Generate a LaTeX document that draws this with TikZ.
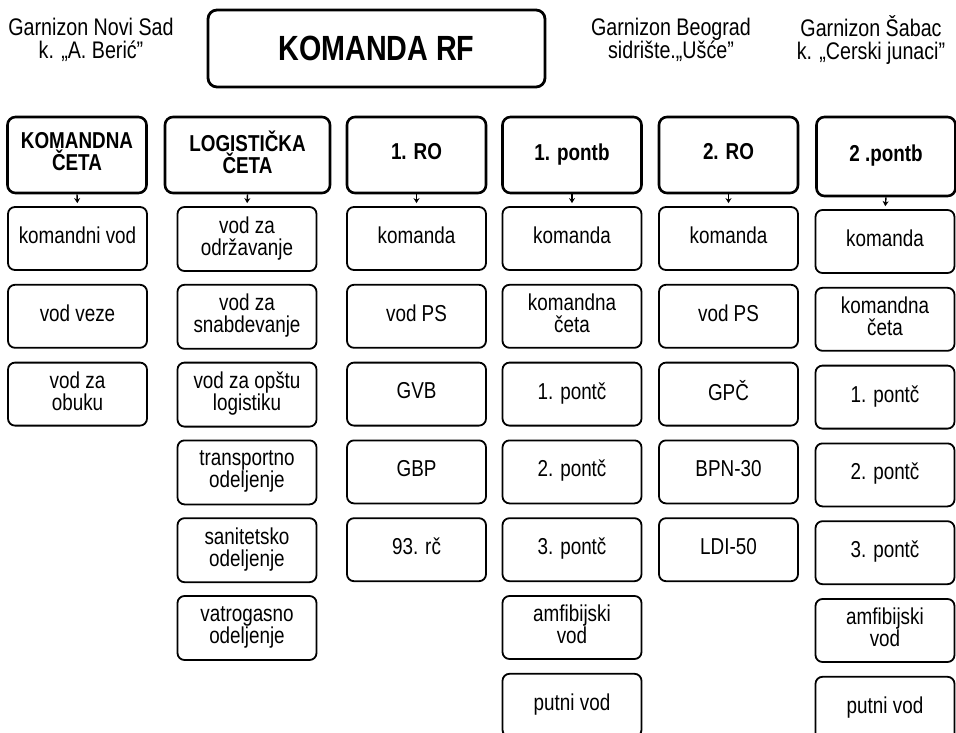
\documentclass[tikz,border=0pt]{standalone}
\usepackage{fontspec}
\setmainfont{Liberation Sans}[FakeStretch=0.82]
\usetikzlibrary{arrows.meta}
\begin{document}
\begin{tikzpicture}[x=1pt,y=-1pt,
  txt/.style={font=\fontsize{23}{22}\selectfont, align=center, inner sep=0pt,
    execute at begin node=\strut, execute at end node=\strut},
  garn/.style={font=\fontsize{24}{23}\selectfont, align=center, inner sep=0pt},
  headbox/.style={txt, draw, line width=2.6pt, rounded corners=8pt, font=\fontsize{23}{22}\selectfont\bfseries, minimum width=139pt, minimum height=76pt},
  subbox/.style={txt, draw, line width=1.8pt, rounded corners=7pt, minimum width=139pt, minimum height=63pt},
  conn/.style={line width=1.4pt, -{Stealth[length=5pt,width=6pt]}, shorten >=3pt}
]
\useasboundingbox (0,0) rectangle (956,733);

% top row
\node[garn] (gns) at (91,40) {Garnizon Novi Sad\\k. „A. Berić”};
\node[draw, line width=2.8pt, rounded corners=9pt, minimum width=337pt, minimum height=77pt, inner sep=0pt, font=\fontsize{35}{34}\selectfont\bfseries] (rf) at (376.5,48.5) {KOMANDA RF};
\node[garn] (gbg) at (671,40) {Garnizon Beograd\\sidrište.„Ušće”};
\node[garn] (gsa) at (871,40) {Garnizon Šabac\\k. „Cerski junaci”};

% headers
\node[headbox] (h1) at (77,155) {KOMANDNA\\ČETA};
\node[headbox, minimum width=165pt] (h2) at (247.5,155) {LOGISTIČKA\\ČETA};
\node[headbox] (h3) at (416.5,155) {1. RO};
\node[headbox] (h4) at (572,155) {1. pontb};
\node[headbox] (h5) at (728.5,155) {2. RO};
\node[headbox, minimum height=79pt] (h6) at (886,156.5) {2 .pontb};

% column 1
\foreach \t [count=\i] in {{komandni vod},{vod veze},{vod za\\obuku}}
  \node[subbox] (a\i) at (77.5,{238.5+(\i-1)*77.8}) {\t};
% column 2
\foreach \t [count=\i] in {{vod za\\održavanje},{vod za\\snabdevanje},{vod za opštu\\logistiku},{transportno\\odeljenje},{sanitetsko\\odeljenje},{vatrogasno\\odeljenje}}
  \node[subbox, minimum height=64pt] (b\i) at (247,{239+(\i-1)*77.8}) {\t};
% column 3
\foreach \t [count=\i] in {komanda,{vod PS},GVB,GBP,{93. rč}}
  \node[subbox] (c\i) at (416.5,{238.5+(\i-1)*77.8}) {\t};
% column 4
\foreach \t [count=\i] in {komanda,{komandna\\četa},{1. pontč},{2. pontč},{3. pontč},{amfibijski\\vod},{putni vod}}
  \node[subbox] (d\i) at (572,{238.5+(\i-1)*77.8}) {\t};
% column 5
\foreach \t [count=\i] in {komanda,{vod PS},GPČ,BPN-30,LDI-50}
  \node[subbox] (e\i) at (728.5,{238.5+(\i-1)*77.8}) {\t};
% column 6
\foreach \t [count=\i] in {komanda,{komandna\\četa},{1. pontč},{2. pontč},{3. pontč},{amfibijski\\vod},{putni vod}}
  \node[subbox] (f\i) at (885,{241.5+(\i-1)*77.8}) {\t};

% connectors
\draw[conn] (h1.south) -- (a1.north);
\draw[conn] (h2.south) -- (b1.north);
\draw[conn] (h3.south) -- (c1.north);
\draw[conn] (h4.south) -- (d1.north);
\draw[conn] (h5.south) -- (e1.north);
\draw[conn] (h6.south) -- (f1.north);
\end{tikzpicture}
\end{document}
